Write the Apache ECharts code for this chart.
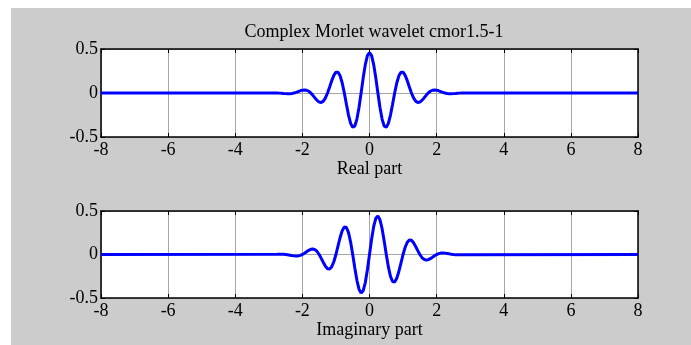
<!DOCTYPE html>
<html>
<head>
<meta charset="utf-8">
<script src="https://cdn.jsdelivr.net/npm/echarts@6/dist/echarts.min.js"></script>
<style>
  html, body { margin: 0; padding: 0; background: #fff; }
  #chart { position: absolute; left: 11px; top: 8px; width: 680px; height: 337px; }
</style>
</head>
<body>
<div id="chart"></div>
<script>
// x positions (denser around the wavelet centre)
const xs = [-8,
  -2.75, -2.6875, -2.625, -2.5625, -2.5, -2.4375, -2.375, -2.3125,
  -2.25, -2.1875, -2.125, -2.0625, -2, -1.9375, -1.875, -1.8125,
  -1.75, -1.6875, -1.625, -1.5625, -1.5, -1.4375, -1.375, -1.3125,
  -1.25, -1.1875, -1.125, -1.0625, -1, -0.9375, -0.875, -0.8125,
  -0.75, -0.6875, -0.625, -0.5625, -0.5, -0.4375, -0.375, -0.3125,
  -0.25, -0.1875, -0.125, -0.0625, 0, 0.0625, 0.125, 0.1875,
  0.25, 0.3125, 0.375, 0.4375, 0.5, 0.5625, 0.625, 0.6875,
  0.75, 0.8125, 0.875, 0.9375, 1, 1.0625, 1.125, 1.1875,
  1.25, 1.3125, 1.375, 1.4375, 1.5, 1.5625, 1.625, 1.6875,
  1.75, 1.8125, 1.875, 1.9375, 2, 2.0625, 2.125, 2.1875,
  2.25, 2.3125, 2.375, 2.4375, 2.5, 2.5625, 2.625, 2.6875, 2.75,
  8];

const realPart = [0,
  0, -0.0014, -0.0033, -0.0054, -0.0071, -0.0081, -0.0076, -0.0050,
  0, 0.0073, 0.0161, 0.0249, 0.0320, 0.0348, 0.0313, 0.0197,
  0, -0.0264, -0.0560, -0.0836, -0.1028, -0.1074, -0.0923, -0.0559,
  0, 0.0688, 0.1401, 0.2006, 0.2365, 0.2369, 0.1955, 0.1135,
  0, -0.1287, -0.2511, -0.3447, -0.3900, -0.3746, -0.2966, -0.1652,
  0, 0.1722, 0.3224, 0.4245, 0.4607, 0.4245, 0.3224, 0.1722,
  0, -0.1652, -0.2966, -0.3746, -0.3900, -0.3447, -0.2511, -0.1287,
  0, 0.1135, 0.1955, 0.2369, 0.2365, 0.2006, 0.1401, 0.0688,
  0, -0.0559, -0.0923, -0.1074, -0.1028, -0.0836, -0.0560, -0.0264,
  0, 0.0197, 0.0313, 0.0348, 0.0320, 0.0249, 0.0161, 0.0073,
  0, -0.0050, -0.0076, -0.0081, -0.0071, -0.0054, -0.0033, -0.0014, 0,
  0];

const imagPart = [0,
  0.0030, 0.0034, 0.0033, 0.0022, 0, -0.0034, -0.0076, -0.0120,
  -0.0158, -0.0176, -0.0161, -0.0103, 0, 0.0144, 0.0313, 0.0476,
  0.0598, 0.0637, 0.0560, 0.0346, 0, -0.0445, -0.0923, -0.1350,
  -0.1626, -0.1662, -0.1401, -0.0831, 0, 0.0981, 0.1955, 0.2741,
  0.3166, 0.3106, 0.2511, 0.1428, 0, -0.1552, -0.2966, -0.3988,
  -0.4419, -0.4158, -0.3224, -0.1758, 0, 0.1758, 0.3224, 0.4158,
  0.4419, 0.3988, 0.2966, 0.1552, 0, -0.1428, -0.2511, -0.3106,
  -0.3166, -0.2741, -0.1955, -0.0981, 0, 0.0831, 0.1401, 0.1662,
  0.1626, 0.1350, 0.0923, 0.0445, 0, -0.0346, -0.0560, -0.0637,
  -0.0598, -0.0476, -0.0313, -0.0144, 0, 0.0103, 0.0161, 0.0176,
  0.0158, 0.0120, 0.0076, 0.0034, 0, -0.0022, -0.0033, -0.0034, -0.0030,
  0];

const titleText = 'Complex Morlet wavelet cmor1.5-1';
const axisNames = ['Real part', 'Imaginary part'];

const font = 'Liberation Serif, Times New Roman, serif';
const fontSize = 18;
const gridColor = '#a6a6a6';

function mainX(gi, name) {
  return {
    type: 'value', gridIndex: gi, min: -8, max: 8, interval: 2,
    position: 'bottom',
    name: name, nameLocation: 'middle', nameGap: 21,
    nameTextStyle: { fontFamily: font, fontSize: fontSize, color: '#000' },
    axisLine: { show: true, onZero: false, lineStyle: { color: '#000', width: 1.5 } },
    axisTick: { show: true, inside: true, length: 4, lineStyle: { color: '#000' } },
    axisLabel: { fontFamily: font, fontSize: fontSize, color: '#000', margin: 4 },
    splitLine: { show: true, lineStyle: { color: gridColor, width: 1 } }
  };
}
function topX(gi) {
  return {
    type: 'value', gridIndex: gi, min: -8, max: 8, interval: 2,
    position: 'top',
    axisLine: { show: true, onZero: false, lineStyle: { color: '#000', width: 1.5 } },
    axisTick: { show: true, inside: true, length: 4, lineStyle: { color: '#000' } },
    axisLabel: { show: false }, splitLine: { show: false }
  };
}
function mainY(gi) {
  return {
    type: 'value', gridIndex: gi, min: -0.5, max: 0.5, interval: 0.5,
    position: 'left',
    axisLine: { show: true, onZero: false, lineStyle: { color: '#000', width: 1.5 } },
    axisTick: { show: true, inside: true, length: 4, lineStyle: { color: '#000' } },
    axisLabel: { fontFamily: font, fontSize: fontSize, color: '#000', margin: 3 },
    splitLine: { show: true, lineStyle: { color: gridColor, width: 1 } }
  };
}
function rightY(gi) {
  return {
    type: 'value', gridIndex: gi, min: -0.5, max: 0.5, interval: 0.5,
    position: 'right',
    axisLine: { show: true, onZero: false, lineStyle: { color: '#000', width: 1.5 } },
    axisTick: { show: true, inside: true, length: 4, lineStyle: { color: '#000' } },
    axisLabel: { show: false }, splitLine: { show: false }
  };
}

const chart = echarts.init(document.getElementById('chart'));
chart.setOption({
  backgroundColor: '#cccccc',
  animation: false,
  title: {
    text: titleText, left: 358, top: 10, textAlign: 'center',
    textStyle: { fontFamily: font, fontSize: fontSize, fontWeight: 'normal', color: '#000' }
  },
  grid: [
    { left: 90, top: 41, width: 537, height: 88, show: true, backgroundColor: '#fff', borderWidth: 0 },
    { left: 90, top: 203, width: 537, height: 87, show: true, backgroundColor: '#fff', borderWidth: 0 }
  ],
  xAxis: [mainX(0, axisNames[0]), topX(0), mainX(1, axisNames[1]), topX(1)],
  yAxis: [mainY(0), rightY(0), mainY(1), rightY(1)],
  series: [
    {
      type: 'line', xAxisIndex: 0, yAxisIndex: 0, showSymbol: false,
      lineStyle: { color: '#0000ff', width: 3 }, itemStyle: { color: '#0000ff' },
      data: xs.map((x, i) => [x, realPart[i]])
    },
    {
      type: 'line', xAxisIndex: 2, yAxisIndex: 2, showSymbol: false,
      lineStyle: { color: '#0000ff', width: 3 }, itemStyle: { color: '#0000ff' },
      data: xs.map((x, i) => [x, imagPart[i]])
    }
  ]
});
</script>
</body>
</html>
